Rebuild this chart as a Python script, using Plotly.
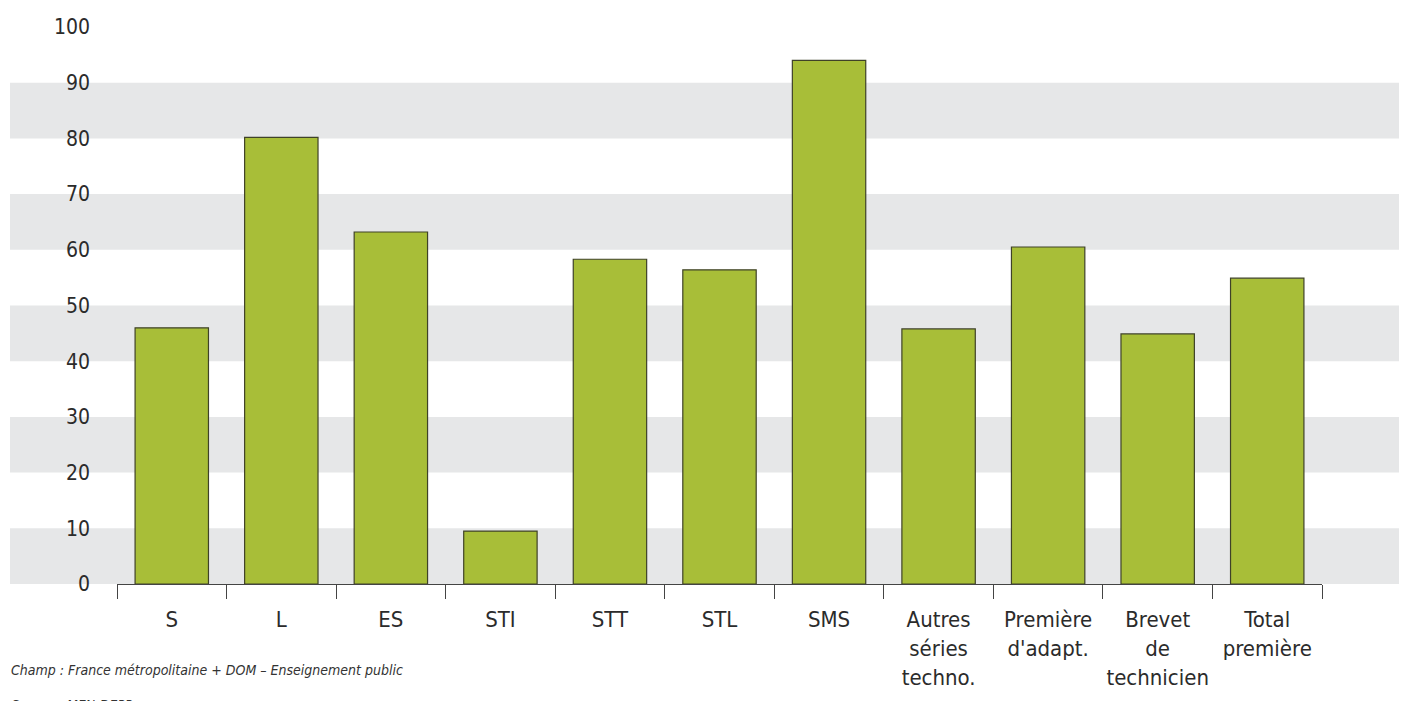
import plotly.graph_objects as go

# Data
categories = ["S", "L", "ES", "STI", "STT", "STL", "SMS",
              "Autres<br>séries<br>techno.", "Première<br>d'adapt.",
              "Brevet<br>de<br>technicien", "Total<br>première"]
values = [46.0, 80.2, 63.2, 9.5, 58.3, 56.4, 94.0, 45.8, 60.5, 44.9, 54.9]
y_ticks = [0, 10, 20, 30, 40, 50, 60, 70, 80, 90, 100]
band_starts = [0, 20, 40, 60, 80]

font_family = "DejaVu Sans Condensed, Liberation Sans Narrow, Arial Narrow, sans-serif"

fig = go.Figure()

fig.add_trace(go.Bar(
    x=categories,
    y=values,
    marker=dict(color="#a8be38", line=dict(color="#3f4228", width=1.2)),
    hoverinfo="x+y",
))

# grey horizontal bands extending beyond the plot area
for b in band_starts:
    fig.add_shape(type="rect", xref="paper", yref="y",
                  x0=-0.0888, x1=1.1, y0=b, y1=b + 10,
                  fillcolor="#e6e7e8", line_width=0, layer="below")

fig.add_annotation(
    text="<i>Champ : France métropolitaine + DOM – Enseignement public</i>",
    xref="paper", yref="paper", x=-0.0895, y=-0.136,
    xanchor="left", yanchor="top", showarrow=False,
    font=dict(family=font_family, size=14, color="#333333"),
)
fig.add_annotation(
    text="<i>Source : MEN-DEPP</i>",
    xref="paper", yref="paper", x=-0.0895, y=-0.2,
    xanchor="left", yanchor="top", showarrow=False,
    font=dict(family=font_family, size=14, color="#333333"),
)

# page body adds an 8px offset, so the figure is sized to fit the window
fig.update_layout(
    width=1399, height=693,
    margin=dict(l=109, r=85, t=19, b=117, autoexpand=False),
    plot_bgcolor="white", paper_bgcolor="white",
    bargap=0.33,
    showlegend=False,
    font=dict(family=font_family, size=21, color="#2b2b2b"),
)
fig.update_xaxes(
    showline=True, linecolor="#444444", linewidth=1,
    ticks="outside", tickson="boundaries", ticklen=14, tickcolor="#444444",
    showgrid=False, tickfont=dict(size=22), ticklabelstandoff=16, tickangle=0,
)
fig.update_yaxes(
    range=[0, 100], tickvals=y_ticks, showgrid=False, zeroline=False,
    showline=False, ticks="", ticklabelstandoff=26, tickfont=dict(size=21),
)

fig.write_html("out.html")
